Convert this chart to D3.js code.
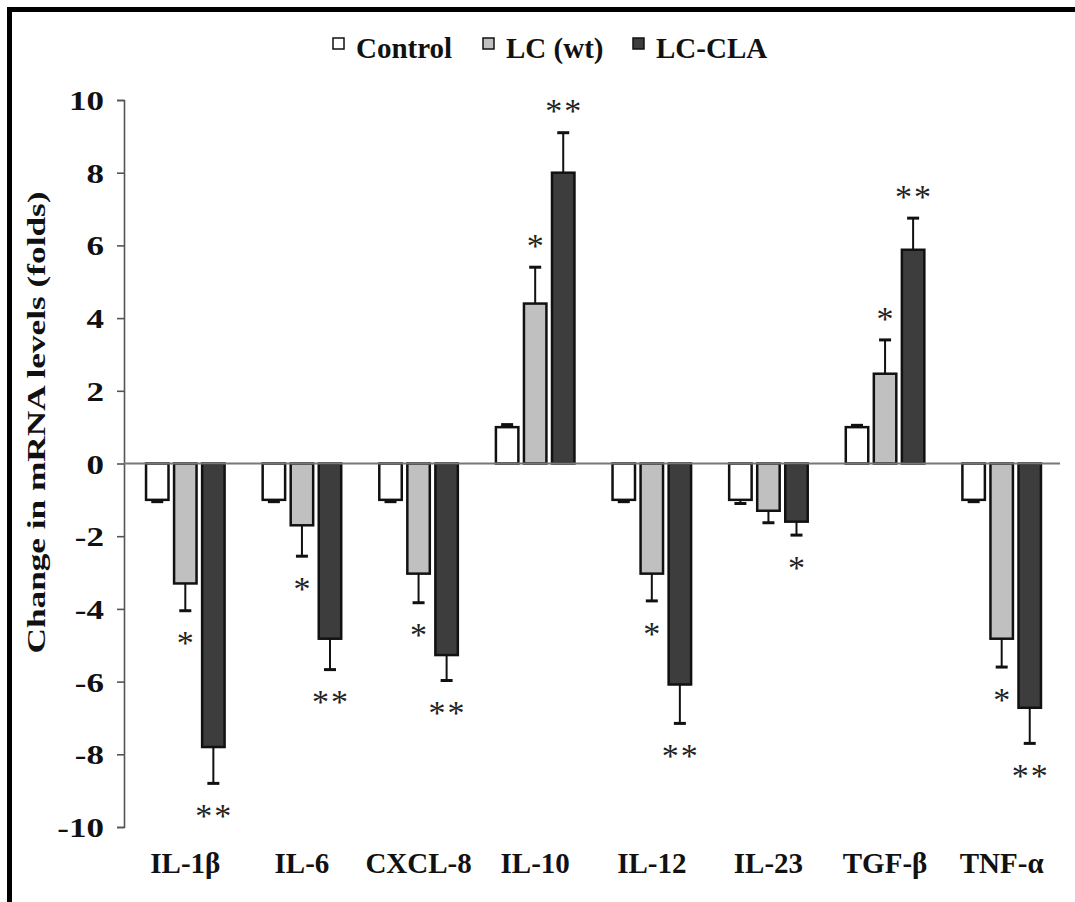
<!DOCTYPE html>
<html>
<head>
<meta charset="utf-8">
<script src="https://cdn.jsdelivr.net/npm/d3@7"></script>
<style>
  html, body { margin: 0; padding: 0; background: #fff; }
  svg { display: block; }
</style>
</head>
<body>
<svg id="chart" width="1075" height="902"></svg>
<script>
// ---- data ----
const categories = ["IL-1β", "IL-6", "CXCL-8", "IL-10", "IL-12", "IL-23", "TGF-β", "TNF-α"];
const seriesNames = ["Control", "LC (wt)", "LC-CLA"];
const controlValues = [-1, -1, -1, 1, -1, -1, 1, -1];
const lcValues = [-3.3, -1.7, -3.03, 4.4, -3.03, -1.3, 2.47, -4.82];
const claValues = [-7.8, -4.82, -5.27, 8.0, -6.08, -1.6, 5.88, -6.72];
const controlErrors = [0.05, 0.05, 0.05, 0.07, 0.05, 0.1, 0.05, 0.05];
const lcErrors = [0.75, 0.85, 0.8, 1.0, 0.75, 0.33, 0.93, 0.78];
const claErrors = [1.0, 0.85, 0.7, 1.1, 1.07, 0.37, 0.87, 0.98];
const controlSig = ["", "", "", "", "", "", "", ""];
const lcSig = ["*", "*", "*", "*", "*", "", "*", "*"];
const claSig = ["**", "**", "**", "**", "**", "*", "**", "**"];
const yTicks = [-10, -8, -6, -4, -2, 0, 2, 4, 6, 8, 10];
const yTitle = "Change in mRNA levels (folds)";

const seriesValues = [controlValues, lcValues, claValues];
const seriesErrors = [controlErrors, lcErrors, claErrors];
const seriesSig = [controlSig, lcSig, claSig];
const seriesFill = ["#ffffff", "#c0c0c0", "#3d3d3d"];

const svg = d3.select("#chart");
const FONT = "'Liberation Serif', 'Times New Roman', serif";

// frame
svg.append("rect").attr("x", 9.5).attr("y", 9.5).attr("width", 1200).attr("height", 1000)
  .attr("fill", "none").attr("stroke", "#000").attr("stroke-width", 5);

// scales
const y = d3.scaleLinear().domain([-10, 10]).range([827, 100]);
const x0 = d3.scaleBand().domain(categories).range([127, 1060]).paddingInner(0.305).paddingOuter(0.1525);
const x1 = d3.scaleBand().domain(seriesNames).range([0, x0.bandwidth()]).paddingInner(0.11);

// y axis
const yAxis = svg.append("g").attr("transform", "translate(124,0)")
  .call(d3.axisLeft(y).tickValues(yTicks).tickSize(7).tickPadding(13).tickFormat(d => String(d)));
yAxis.selectAll("path, line").attr("stroke", "#555").attr("stroke-width", 1.6);
yAxis.selectAll(".tick text").each(function () {
  const t = d3.select(this);
  const tx = +t.attr("x");
  t.attr("x", 0).attr("transform", `translate(${tx},0) scale(1.25,1)`);
}).attr("font-family", FONT).attr("font-weight", "bold")
  .attr("font-size", 28).attr("fill", "#111").attr("dy", "0.34em");

// bars
const groups = svg.append("g").selectAll("g").data(categories).join("g")
  .attr("transform", d => `translate(${x0(d)},0)`);

const barData = (c, i) => seriesNames.map((s, k) => ({
  s, k, v: seriesValues[k][i], e: seriesErrors[k][i], sig: seriesSig[k][i]
}));

const STAR_SIZE = 34;
groups.each(function (c, i) {
  const g = d3.select(this);
  const data = barData(c, i);
  // error bars (one-sided, away from zero)
  data.forEach(d => {
    const cx = x1(d.s) + x1.bandwidth() / 2;
    const end = d.v >= 0 ? d.v + d.e : d.v - d.e;
    g.append("line").attr("x1", cx).attr("x2", cx).attr("y1", y(d.v)).attr("y2", y(end))
      .attr("stroke", "#111").attr("stroke-width", 2);
    g.append("line").attr("x1", cx - 6).attr("x2", cx + 6).attr("y1", y(end)).attr("y2", y(end))
      .attr("stroke", "#111").attr("stroke-width", 3);
  });
  g.selectAll("rect").data(data).join("rect")
    .attr("x", d => x1(d.s) + 1.25)
    .attr("width", x1.bandwidth() - 2.5)
    .attr("y", d => y(Math.max(0, d.v)))
    .attr("height", d => Math.abs(y(d.v) - y(0)))
    .attr("fill", d => seriesFill[d.k])
    .attr("stroke", "#111").attr("stroke-width", 2.5);
  // significance stars
  data.filter(d => d.sig).forEach(d => {
    const cx = x1(d.s) + x1.bandwidth() / 2;
    const end = d.v >= 0 ? d.v + d.e : d.v - d.e;
    const cy = d.v >= 0 ? y(end) - 28 : y(end) + 26;
    g.append("text").attr("x", cx).attr("y", cy + STAR_SIZE * 0.52)
      .attr("text-anchor", "middle")
      .attr("font-family", FONT)
      .attr("font-size", STAR_SIZE).attr("letter-spacing", d.sig.length > 1 ? 2 : 0)
      .attr("dx", d.sig.length > 1 ? 1 : 0)
      .attr("fill", "#222")
      .text(d.sig);
  });
});

// zero line
svg.append("line").attr("x1", 124).attr("x2", 1060).attr("y1", y(0)).attr("y2", y(0))
  .attr("stroke", "#777").attr("stroke-width", 2);

// x labels
svg.append("g").selectAll("text").data(categories).join("text")
  .attr("x", d => x0(d) + x0.bandwidth() / 2)
  .attr("y", 873)
  .attr("text-anchor", "middle")
  .attr("font-family", FONT).attr("font-weight", "bold").attr("font-size", 29)
  .attr("fill", "#111")
  .text(d => d);

// y title
svg.append("text")
  .attr("transform", `translate(45,${(190 + 655) / 2}) rotate(-90)`)
  .attr("text-anchor", "middle")
  .attr("font-family", FONT).attr("font-weight", "bold").attr("font-size", 26)
  .attr("textLength", 462).attr("lengthAdjust", "spacingAndGlyphs")
  .attr("fill", "#111")
  .text(yTitle);

// legend
const legendX = [333, 483, 633];
const legend = svg.append("g").selectAll("g").data(seriesNames).join("g")
  .attr("transform", (d, k) => `translate(${legendX[k]},0)`);
legend.append("rect").attr("x", 0).attr("y", 38).attr("width", 11).attr("height", 11)
  .attr("fill", (d, k) => seriesFill[k]).attr("stroke", "#111").attr("stroke-width", 1.5);
legend.append("text").attr("x", 23).attr("y", 58)
  .attr("font-family", FONT).attr("font-weight", "bold").attr("font-size", 29)
  .attr("fill", "#111")
  .text(d => d);
</script>
</body>
</html>
